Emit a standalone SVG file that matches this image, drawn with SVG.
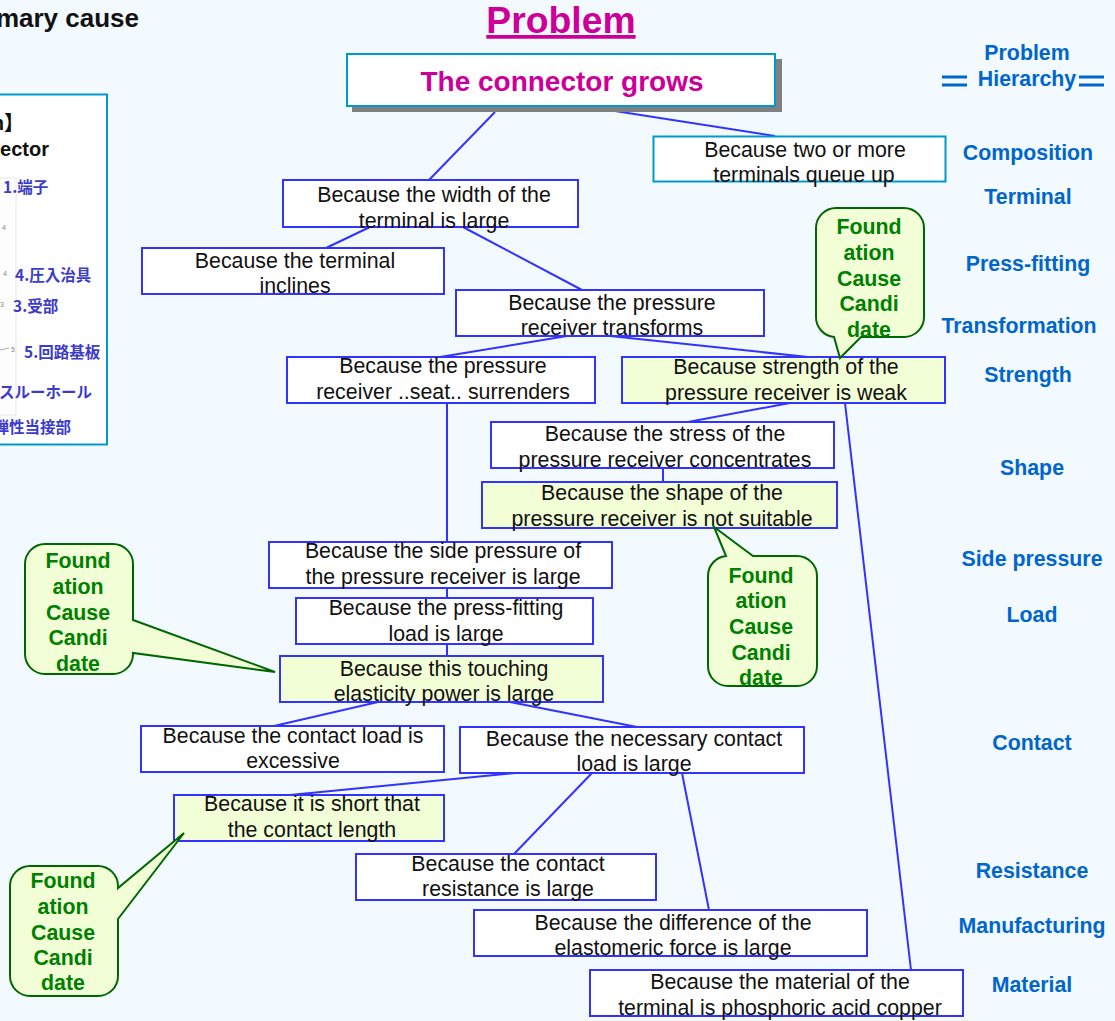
<svg xmlns="http://www.w3.org/2000/svg" width="1115" height="1021" viewBox="0 0 1115 1021">
<style>
text{font-family:"Liberation Sans",Arial,"Noto Sans CJK JP",sans-serif}
.n{fill:#fff;stroke:#3333ff;stroke-width:2}
.y{fill:#f2ffd6;stroke:#3333ff;stroke-width:2}
.c{fill:#fff;stroke:#0099cc;stroke-width:2}
.t{font-size:21.33px;fill:#111;text-anchor:middle}
.h{font-size:21.33px;font-weight:bold;fill:#0066cc;text-anchor:middle}
.b{fill:#f2ffd6;stroke:#006600;stroke-width:2}
.g{font-size:21.33px;font-weight:bold;fill:#008000;text-anchor:middle}
.j{font-family:"Noto Sans CJK JP","Liberation Sans",sans-serif;font-size:15.5px;font-weight:bold;fill:#3c3cc8}
.m{font-size:7px;fill:#888}
.e{stroke:#0066cc;stroke-width:3}
#connectors line{stroke:#3333ff;stroke-width:2}
</style>
<rect width="1115" height="1021" fill="#f2f9ff"/>
<text x="139" y="27" text-anchor="end" font-size="26" font-weight="bold" fill="#111">mary cause</text>
<g id="panel">
<rect x="-5" y="94.500" width="112" height="350" class="c"/>
<rect x="-5" y="178" width="21" height="237" fill="#fdfdfd" stroke="#e8e8e8"/>
<text x="24" y="130" text-anchor="end" font-size="20" font-weight="bold" fill="#111">m】</text>
<text x="49" y="156" text-anchor="end" font-size="20" font-weight="bold" fill="#111">ector</text>
<text x="2" y="230" class="m">4</text>
<text x="3" y="276" class="m">4</text>
<text x="0" y="307" class="m">3</text>
<text x="11" y="352" class="m">5</text>
<line x1="0" y1="350" x2="9" y2="348" stroke="#aaa"/>
<text x="3" y="193" class="j">1.端子</text>
<text x="15" y="281" class="j">4.圧入治具</text>
<text x="13" y="312" class="j">3.受部</text>
<text x="24" y="358" class="j">5.回路基板</text>
<text x="92" y="398" text-anchor="end" class="j">スルーホール</text>
<text x="71" y="433" text-anchor="end" class="j">弾性当接部</text>
</g>
<g id="connectors">
<line x1="495" y1="112" x2="429" y2="180"/>
<line x1="615" y1="111" x2="775" y2="136"/>
<line x1="370" y1="227" x2="326" y2="248"/>
<line x1="463" y1="227" x2="582" y2="290"/>
<line x1="567" y1="336" x2="440" y2="357"/>
<line x1="610" y1="336" x2="808" y2="357"/>
<line x1="790" y1="403" x2="688" y2="422"/>
<line x1="663" y1="468" x2="663" y2="482"/>
<line x1="447" y1="403" x2="447" y2="542"/>
<line x1="447" y1="588" x2="447" y2="598"/>
<line x1="447" y1="644" x2="447" y2="656"/>
<line x1="378" y1="702" x2="274" y2="726"/>
<line x1="510" y1="702" x2="637" y2="727"/>
<line x1="515" y1="773" x2="290" y2="795"/>
<line x1="592" y1="773" x2="514" y2="854"/>
<line x1="682" y1="773" x2="709" y2="910"/>
<line x1="845" y1="403" x2="911" y2="970"/>
</g>
<g id="title"><text x="561" y="33" text-anchor="middle" font-size="37.33" font-weight="bold" fill="#cc0099" text-decoration="underline">Problem</text></g>
<g id="root">
<rect x="352" y="59" width="430" height="53" fill="#808080"/>
<rect x="347" y="54" width="428" height="52" class="c"/>
<text x="562" y="91" text-anchor="middle" font-size="28" font-weight="bold" fill="#cc0099">The connector grows</text>
</g>
<g id="n1"><rect x="653.500" y="136.500" width="292" height="45" class="c"/><text x="805" y="157" class="t">Because two or more</text><text x="804" y="182" class="t">terminals queue up</text></g>
<g id="n2"><rect x="283" y="180" width="295" height="47" class="n"/><text x="434" y="202" class="t">Because the width of the</text><text x="434" y="228" class="t">terminal is large</text></g>
<g id="n3"><rect x="142" y="248" width="302" height="46" class="n"/><text x="295" y="268" class="t">Because the terminal</text><text x="295" y="293" class="t">inclines</text></g>
<g id="n4"><rect x="456" y="290" width="308" height="46" class="n"/><text x="612" y="310" class="t">Because the pressure</text><text x="612" y="335" class="t">receiver transforms</text></g>
<g id="n5"><rect x="287" y="357" width="308" height="46" class="n"/><text x="443" y="373" class="t">Because the pressure</text><text x="443" y="399" class="t">receiver ..seat.. surrenders</text></g>
<g id="n6"><rect x="622" y="357" width="323" height="46" class="y"/><text x="786" y="374" class="t">Because strength of the</text><text x="786" y="400" class="t">pressure receiver is weak</text></g>
<g id="n7"><rect x="491" y="422" width="343" height="46" class="n"/><text x="665" y="441" class="t">Because the stress of the</text><text x="665" y="467" class="t">pressure receiver concentrates</text></g>
<g id="n8"><rect x="482" y="482" width="355" height="46" class="y"/><text x="662" y="500" class="t">Because the shape of the</text><text x="662" y="526" class="t">pressure receiver is not suitable</text></g>
<g id="n9"><rect x="269" y="542" width="343" height="46" class="n"/><text x="443" y="558" class="t">Because the side pressure of</text><text x="443" y="584" class="t">the pressure receiver is large</text></g>
<g id="n10"><rect x="296" y="598" width="297" height="46" class="n"/><text x="446" y="615" class="t">Because the press-fitting</text><text x="446" y="641" class="t">load is large</text></g>
<g id="n11"><rect x="280" y="656" width="323" height="46" class="y"/><text x="444" y="676" class="t">Because this touching</text><text x="444" y="701" class="t">elasticity power is large</text></g>
<g id="n12"><rect x="141" y="726" width="303" height="46" class="n"/><text x="293" y="743" class="t">Because the contact load is</text><text x="293" y="768" class="t">excessive</text></g>
<g id="n13"><rect x="460" y="727" width="344" height="46" class="n"/><text x="634" y="746" class="t">Because the necessary contact</text><text x="634" y="771" class="t">load is large</text></g>
<g id="n14"><rect x="174" y="795" width="270" height="46" class="y"/><text x="312" y="811" class="t">Because it is short that</text><text x="312" y="837" class="t">the contact length</text></g>
<g id="n15"><rect x="356" y="854" width="300" height="46" class="n"/><text x="508" y="871" class="t">Because the contact</text><text x="508" y="896" class="t">resistance is large</text></g>
<g id="n16"><rect x="474" y="910" width="393" height="46" class="n"/><text x="673" y="930" class="t">Because the difference of the</text><text x="673" y="955" class="t">elastomeric force is large</text></g>
<g id="n17"><rect x="590" y="970" width="373" height="46" class="n"/><text x="780" y="989" class="t">Because the material of the</text><text x="780" y="1015" class="t">terminal is phosphoric acid copper</text></g>
<g id="callout1">
<path class="b" d="M836 208H904A20 20 0 0 1 924 228V317A20 20 0 0 1 904 337H861L840 358L834 337A20 20 0 0 1 816 317V228A20 20 0 0 1 836 208Z"/>
<text x="869" y="234" class="g">Found</text><text x="869" y="260" class="g">ation</text><text x="869" y="286" class="g">Cause</text><text x="869" y="311" class="g">Candi</text><text x="869" y="337" class="g">date</text>
</g>
<g id="callout2">
<path class="b" d="M45 544H113A20 20 0 0 1 133 564V620L275 672L133 653V654A20 20 0 0 1 113 674H45A20 20 0 0 1 25 654V564A20 20 0 0 1 45 544Z"/>
<text x="78" y="568" class="g">Found</text><text x="78" y="594" class="g">ation</text><text x="78" y="620" class="g">Cause</text><text x="78" y="645" class="g">Candi</text><text x="78" y="671" class="g">date</text>
</g>
<g id="callout3">
<path class="b" d="M753 556H797A20 20 0 0 1 817 576V666A20 20 0 0 1 797 686H728A20 20 0 0 1 708 666V576A20 20 0 0 1 726 556L714 527Z"/>
<text x="761" y="583" class="g">Found</text><text x="761" y="608" class="g">ation</text><text x="761" y="634" class="g">Cause</text><text x="761" y="660" class="g">Candi</text><text x="761" y="685" class="g">date</text>
</g>
<g id="callout4">
<path class="b" d="M30 866H98A20 20 0 0 1 118 886V888L184 833L118 919V976A20 20 0 0 1 98 996H30A20 20 0 0 1 10 976V886A20 20 0 0 1 30 866Z"/>
<text x="63" y="888" class="g">Found</text><text x="63" y="914" class="g">ation</text><text x="63" y="940" class="g">Cause</text><text x="63" y="965" class="g">Candi</text><text x="63" y="990" class="g">date</text>
</g>
<g id="hierarchy">
<text x="1027" y="60" class="h">Problem</text><text x="1027" y="86" class="h">Hierarchy</text>
<line class="e" x1="942" y1="77" x2="967" y2="77"/><line class="e" x1="942" y1="85" x2="967" y2="85"/>
<line class="e" x1="1079" y1="77" x2="1104" y2="77"/><line class="e" x1="1079" y1="85" x2="1104" y2="85"/>
<text x="1028" y="160" class="h">Composition</text>
<text x="1028" y="204" class="h">Terminal</text>
<text x="1028" y="271" class="h">Press-fitting</text>
<text x="1019" y="333" class="h">Transformation</text>
<text x="1028" y="382" class="h">Strength</text>
<text x="1032" y="475" class="h">Shape</text>
<text x="1032" y="566" class="h">Side pressure</text>
<text x="1032" y="622" class="h">Load</text>
<text x="1032" y="750" class="h">Contact</text>
<text x="1032" y="878" class="h">Resistance</text>
<text x="1032" y="933" class="h">Manufacturing</text>
<text x="1032" y="992" class="h">Material</text>
</g>
</svg>
